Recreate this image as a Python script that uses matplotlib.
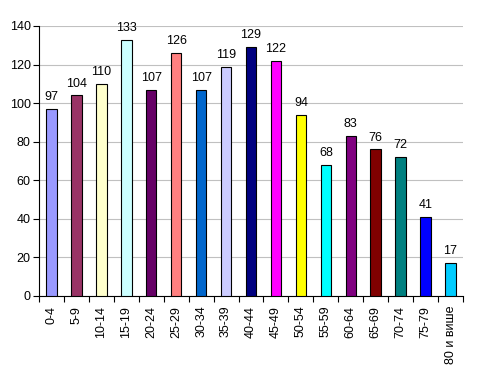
import matplotlib

matplotlib.use("Agg")
import matplotlib.pyplot as plt
import numpy as np

plt.rcParams["font.family"] = ["Liberation Sans", "DejaVu Sans"]

categories = ["0-4", "5-9", "10-14", "15-19", "20-24", "25-29", "30-34", "35-39",
              "40-44", "45-49", "50-54", "55-59", "60-64", "65-69", "70-74", "75-79",
              "80 и више"]
values = [97, 104, 110, 133, 107, 126, 107, 119, 129, 122, 94, 68, 83, 76, 72, 41, 17]
colors = ["#9999FF", "#993366", "#FFFFCC", "#CCFFFF", "#660066", "#FF8080", "#0066CC",
          "#CCCCFF", "#000080", "#FF00FF", "#FFFF00", "#00FFFF", "#800080", "#800000",
          "#008080", "#0000FF", "#00CCFF"]

fig = plt.figure(figsize=(4.84, 3.76), dpi=100)
ax = fig.add_axes([39 / 484, 80 / 376, 424 / 484, 270 / 376])

x = np.arange(len(categories))
bars = ax.bar(x, values, width=0.42, color=colors, edgecolor="black", linewidth=0.8, zorder=3)
for xi, v in zip(x, values):
    ax.text(xi, v + 3, str(v), ha="center", va="bottom", fontsize=9)

ax.set_xlim(-0.5, len(categories) - 0.5)
ax.set_ylim(0, 140)
ax.set_yticks(range(0, 141, 20))
ax.yaxis.grid(True, color="#C0C0C0", linewidth=0.8, zorder=0)

ax.set_xticks(x)
ax.set_xticklabels(categories, rotation=90, fontsize=9)
ax.tick_params(axis="x", length=0, pad=7)
ax.set_xticks(np.arange(-0.5, len(categories)), minor=True)
ax.tick_params(axis="x", which="minor", length=4, width=0.8, direction="out")
ax.tick_params(axis="y", length=4, width=0.8, direction="out", labelsize=9, pad=2)

for side in ("top", "right"):
    ax.spines[side].set_visible(False)
for side in ("left", "bottom"):
    ax.spines[side].set_linewidth(0.8)

fig.savefig("out.png", dpi=100)
